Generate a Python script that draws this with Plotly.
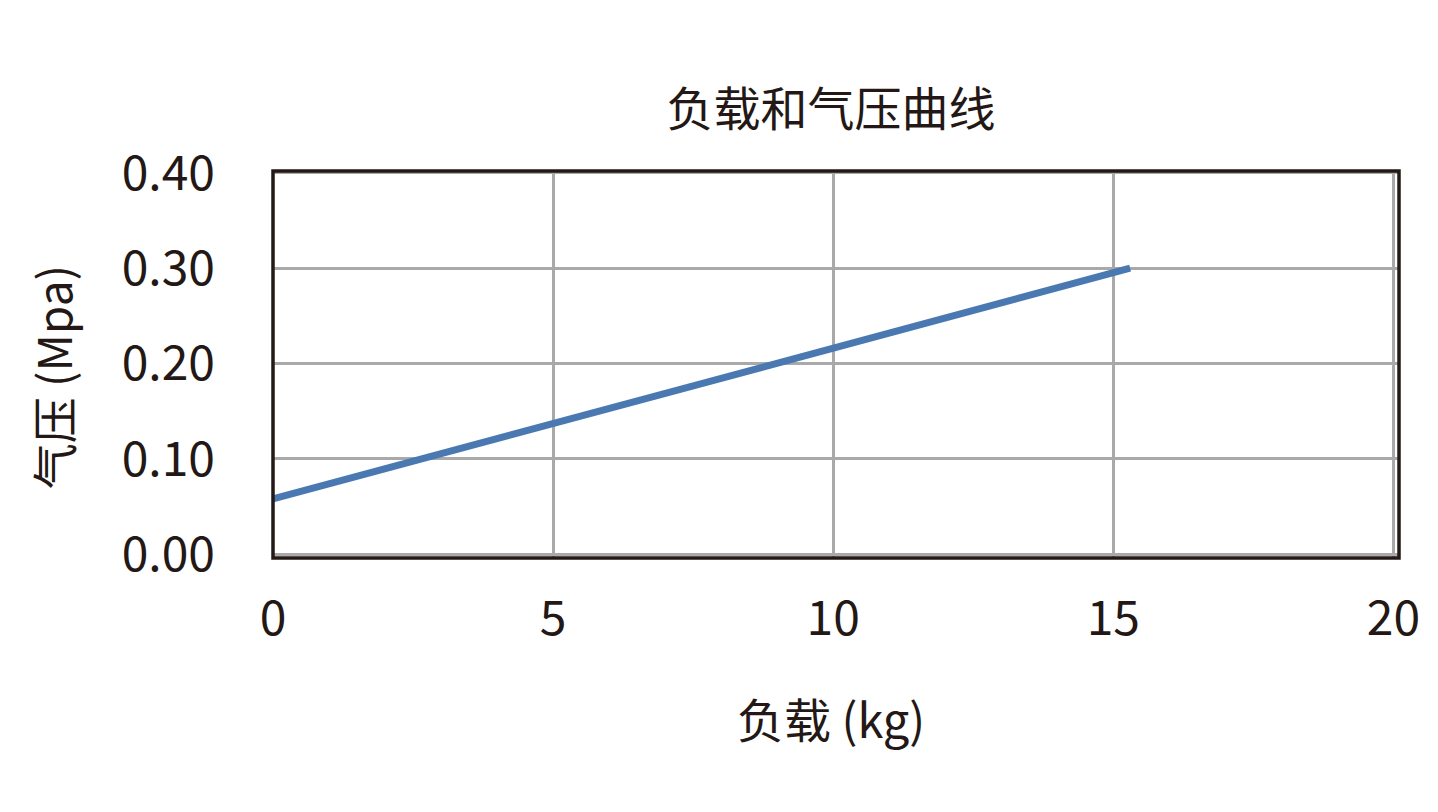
import plotly.graph_objects as go

# 负载 (kg) 与 气压 (Mpa)
load_kg = [0, 5, 10, 15.3]
pressure_mpa = [0.058, 0.137, 0.217, 0.300]

x_ticks = [0, 5, 10, 15, 20]
y_ticks = [0.0, 0.1, 0.2, 0.3, 0.4]
y_tick_text = ["0.00", "0.10", "0.20", "0.30", "0.40"]

TEXT = "#231815"
GRID = "#a9a9a9"
LINE = "#4a79b2"
FONT = "Noto Sans CJK SC, Noto Sans, sans-serif"

fig = go.Figure()
fig.add_trace(go.Scatter(
    x=load_kg, y=pressure_mpa, mode="lines",
    line=dict(color=LINE, width=7),
    showlegend=False,
))

fig.update_layout(
    width=1438, height=812,
    paper_bgcolor="white", plot_bgcolor="white",
    font=dict(family=FONT, size=48, color=TEXT),
    margin=dict(l=265, r=47, t=163, b=262),
    title=dict(text="负载和气压曲线", x=823 / 1438, xanchor="center",
               xref="container", y=1 - 102 / 812, yref="container", yanchor="middle",
               font=dict(size=47, color=TEXT)),
    xaxis=dict(range=[0, 20.1], tickvals=x_ticks, showgrid=True, gridcolor=GRID,
               gridwidth=2.8, zeroline=False, showline=False, ticks="",
               ticklabelstandoff=28),
    yaxis=dict(range=[-0.004, 0.402], tickvals=y_ticks, ticktext=y_tick_text,
               showgrid=True, gridcolor=GRID, gridwidth=2.8, zeroline=False,
               showline=False, ticks="", ticklabelstandoff=57),
    annotations=[
        dict(text="气压 (Mpa)", textangle=-90, xref="paper", yref="paper",
             x=-0.1955, y=0.4665, xanchor="center", yanchor="middle",
             showarrow=False, font=dict(size=46, color=TEXT)),
        dict(text="负载 (kg)", xref="paper", yref="paper",
             x=0.4956, y=-0.412, xanchor="center", yanchor="middle",
             showarrow=False, font=dict(size=47, color=TEXT)),
    ],
    shapes=[dict(type="rect", xref="paper", yref="paper", x0=0, x1=1, y0=0, y1=1,
                 line=dict(color=TEXT, width=3.5), layer="above")],
)

fig.write_html("out.html")
